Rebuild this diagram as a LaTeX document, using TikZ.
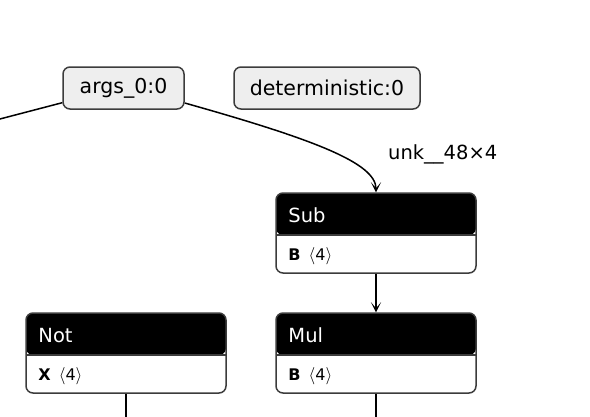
\documentclass[tikz,border=0pt]{standalone}
\usepackage{fontspec}
\setmainfont{DejaVu Sans}
\usetikzlibrary{arrows.meta}
\definecolor{boxline}{HTML}{3C3C3C}
\definecolor{argfill}{HTML}{EEEEEE}
\begin{document}
\begin{tikzpicture}[x=1pt,y=-1pt,
		argbox/.style={draw=boxline,fill=argfill,line width=1.5pt,rounded corners=7pt,minimum height=42pt,inner sep=0pt,font=\fontsize{20.5}{23}\selectfont},
		opbox/.style={draw=boxline,line width=1.5pt,rounded corners=7pt,minimum width=200pt,minimum height=80pt,inner sep=0pt,
			path picture={\fill[black] (path picture bounding box.north west) rectangle ([yshift=-42pt]path picture bounding box.north east);
				\draw[boxline,line width=1.5pt] ([yshift=-42pt]path picture bounding box.north west) -- ([yshift=-42pt]path picture bounding box.north east);}},
		head/.style={anchor=base west,text=white,inner sep=0pt,font=\fontsize{19.5}{22}\selectfont},
		attr/.style={anchor=base west,inner sep=0pt,font=\fontsize{16}{19}\selectfont},
		flow/.style={line width=1.5pt,-{Stealth[length=10pt,width=10pt,inset=6pt]}},
		wire/.style={line width=1.5pt}]
	\clip (0,0) rectangle (590,416);
	\node[argbox,minimum width=121pt] (args) at (123.5,88) {args\_0:0};
	\node[argbox,minimum width=186pt] (determ) at (327,88) {deterministic:0};
	\node[opbox] (sub) at (376,233) {};
	\node[opbox] (mul) at (376,353) {};
	\node[opbox] (not) at (126,353) {};
	\node[head] (subhead) at ([xshift=13pt,yshift=-30pt]sub.north west) {Sub};
	\node[attr] (subattr) at ([xshift=13pt,yshift=-68pt]sub.north west) {{\bfseries B}\enspace$\langle$4$\rangle$};
	\node[head] (mulhead) at ([xshift=13pt,yshift=-30pt]mul.north west) {Mul};
	\node[attr] (mulattr) at ([xshift=13pt,yshift=-68pt]mul.north west) {{\bfseries B}\enspace$\langle$4$\rangle$};
	\node[head] (nothead) at ([xshift=13pt,yshift=-30pt]not.north west) {Not};
	\node[attr] (notattr) at ([xshift=13pt,yshift=-68pt]not.north west) {{\bfseries X}\enspace$\langle$4$\rangle$};
	% edges leaving the view
	\coordinate (offleft) at (-20,124.2);
	\coordinate (notout) at (126,440);
	\coordinate (mulout) at (376,440);
	\draw[wire] ([yshift=-14.7pt]args.west) -- (offleft);
	\draw[flow] ([yshift=-15pt]args.east) .. controls (314,139.4) and (376,163) .. (sub.north);
	\node[anchor=base west,inner sep=0pt,font=\fontsize{19.5}{22}\selectfont] (unk) at (388,159) {unk\_\_48×4};
	\draw[flow] (sub.south) -- (mul.north);
	\draw[wire] (not.south) -- (notout);
	\draw[wire] (mul.south) -- (mulout);
\end{tikzpicture}
\end{document}
